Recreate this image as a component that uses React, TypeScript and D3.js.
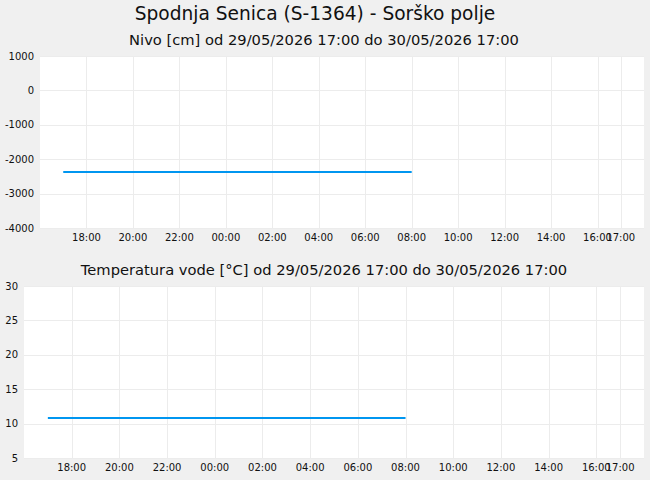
import React, { useEffect, useRef } from "react";
import * as d3 from "d3";

const WIDTH = 650;
const HEIGHT = 480;

const stationTitle = "Spodnja Senica (S-1364) - Sorško polje";
const levelTitle = "Nivo [cm] od 29/05/2026 17:00 do 30/05/2026 17:00";
const tempTitle = "Temperatura vode [°C] od 29/05/2026 17:00 do 30/05/2026 17:00";

// hourly readings, 29/05 17:00 .. 30/05 08:00
const readingTimes = [
  "2026-05-29T17:00", "2026-05-29T18:00", "2026-05-29T19:00", "2026-05-29T20:00",
  "2026-05-29T21:00", "2026-05-29T22:00", "2026-05-29T23:00", "2026-05-30T00:00",
  "2026-05-30T01:00", "2026-05-30T02:00", "2026-05-30T03:00", "2026-05-30T04:00",
  "2026-05-30T05:00", "2026-05-30T06:00", "2026-05-30T07:00", "2026-05-30T08:00",
];
const levelValues = [
  -2372, -2372, -2372, -2372, -2372, -2372, -2372, -2372,
  -2372, -2372, -2372, -2372, -2372, -2372, -2372, -2372,
];
const tempValues = [
  10.8, 10.8, 10.8, 10.8, 10.8, 10.8, 10.8, 10.8,
  10.8, 10.8, 10.8, 10.8, 10.8, 10.8, 10.8, 10.8,
];

const xDomain = ["2026-05-29T16:00", "2026-05-30T18:00"];
const xTickTimes = [
  "2026-05-29T18:00", "2026-05-29T20:00", "2026-05-29T22:00", "2026-05-30T00:00",
  "2026-05-30T02:00", "2026-05-30T04:00", "2026-05-30T06:00", "2026-05-30T08:00",
  "2026-05-30T10:00", "2026-05-30T12:00", "2026-05-30T14:00", "2026-05-30T16:00",
  "2026-05-30T17:00",
];
const levelTicks = [1000, 0, -1000, -2000, -3000, -4000];
const tempTicks = [30, 25, 20, 15, 10, 5];

const FONT = "DejaVu Sans, sans-serif";

interface Panel {
  title: string;
  titleY: number;
  left: number;
  top: number;
  bottom: number;
  values: number[];
  ticks: number[];
}

function drawPanel(svg: any, p: Panel) {
  const right = 644;
  const parse = (s: string) => new Date(s);
  const x = d3
    .scaleTime()
    .domain(xDomain.map(parse) as [Date, Date])
    .range([p.left, right]);
  const y = d3
    .scaleLinear()
    .domain([d3.min(p.ticks) as number, d3.max(p.ticks) as number])
    .range([p.bottom, p.top]);

  svg
    .append("text")
    .attr("x", 324)
    .attr("y", p.titleY)
    .attr("text-anchor", "middle")
    .attr("font-size", 14.7)
    .attr("fill", "#111")
    .text(p.title);

  svg
    .append("rect")
    .attr("x", p.left)
    .attr("y", p.top)
    .attr("width", right - p.left)
    .attr("height", p.bottom - p.top)
    .attr("fill", "#fff");

  // grid
  const g = svg.append("g").attr("stroke", "#ececec").attr("stroke-width", 1);
  p.ticks.forEach((t) => {
    g.append("line")
      .attr("x1", p.left)
      .attr("x2", right)
      .attr("y1", Math.round(y(t)) + 0.5)
      .attr("y2", Math.round(y(t)) + 0.5);
  });
  xTickTimes.forEach((t) => {
    const xx = Math.round(x(parse(t))) + 0.5;
    g.append("line")
      .attr("x1", xx)
      .attr("x2", xx)
      .attr("y1", p.top)
      .attr("y2", p.bottom);
  });

  // y labels
  p.ticks.forEach((t) => {
    svg
      .append("text")
      .attr("x", p.left - 6)
      .attr("y", y(t) + 3.5)
      .attr("text-anchor", "end")
      .attr("font-size", 10)
      .attr("fill", "#111")
      .text(String(t));
  });

  // x labels
  const fmt = d3.timeFormat("%H:%M");
  xTickTimes.forEach((t) => {
    svg
      .append("text")
      .attr("x", x(parse(t)))
      .attr("y", p.bottom + 13)
      .attr("text-anchor", "middle")
      .attr("font-size", 10)
      .attr("fill", "#111")
      .text(fmt(parse(t)));
  });

  const pts = readingTimes.map((t, i) => [x(parse(t)), y(p.values[i])] as [number, number]);
  svg
    .append("path")
    .attr("d", d3.line()(pts))
    .attr("fill", "none")
    .attr("stroke", "#0096f0")
    .attr("stroke-width", 2);
}

export default function App() {
  const ref = useRef<SVGSVGElement>(null);

  useEffect(() => {
    const svg = d3.select(ref.current);
    svg.selectAll("*").remove();

    svg
      .append("rect")
      .attr("width", WIDTH)
      .attr("height", HEIGHT)
      .attr("fill", "#f0f0f0");

    svg
      .append("text")
      .attr("x", 315)
      .attr("y", 20)
      .attr("text-anchor", "middle")
      .attr("font-size", 18.6)
      .attr("fill", "#111")
      .text(stationTitle);

    drawPanel(svg, {
      title: levelTitle,
      titleY: 45,
      left: 40,
      top: 56,
      bottom: 228,
      values: levelValues,
      ticks: levelTicks,
    });
    drawPanel(svg, {
      title: tempTitle,
      titleY: 275,
      left: 24,
      top: 286,
      bottom: 458,
      values: tempValues,
      ticks: tempTicks,
    });
  }, []);

  return (
    <svg
      ref={ref}
      width={WIDTH}
      height={HEIGHT}
      style={{ position: "absolute", left: 0, top: 0, fontFamily: FONT }}
    />
  );
}
